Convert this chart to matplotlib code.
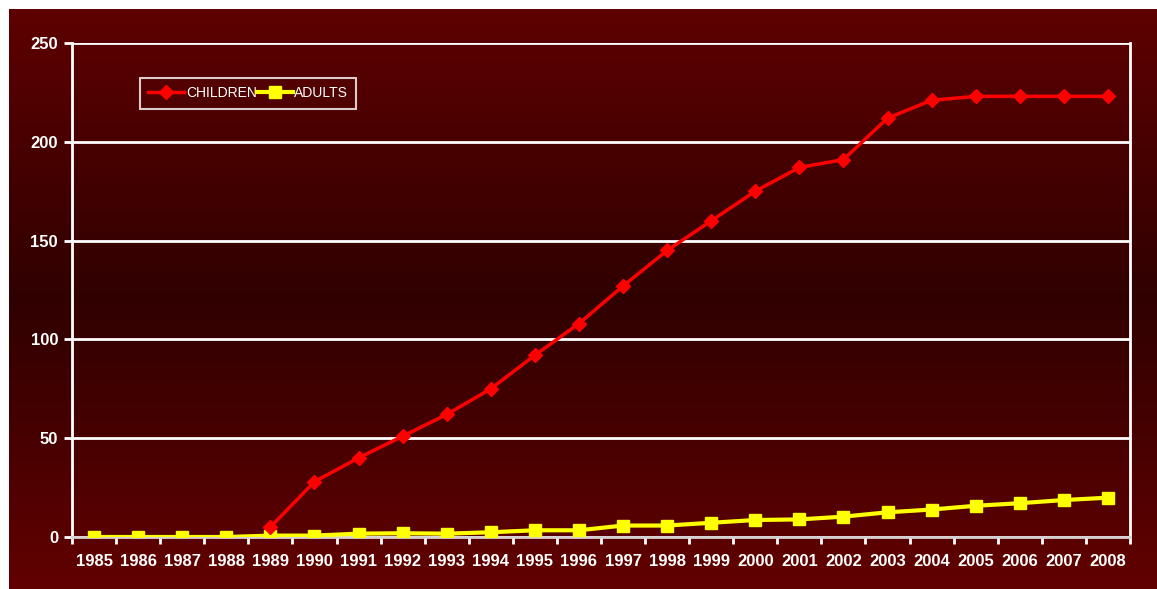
import numpy as np
import matplotlib.pyplot as plt
from matplotlib.colors import LinearSegmentedColormap

# data
years = list(range(1985, 2009))
children = [np.nan, np.nan, np.nan, np.nan, 5, 28, 40, 51, 62, 75, 92, 108,
            127, 145, 160, 175, 187, 191, 212, 221, 223, 223, 223, 223]
adults = [0, 0, 0, 0, 0.7, 0.7, 1.7, 1.9, 1.7, 2.4, 3.4, 3.4,
          5.8, 5.8, 7.2, 8.6, 8.9, 10.3, 12.5, 13.9, 15.8, 17.1, 18.7, 19.9]
yticks = [0, 50, 100, 150, 200, 250]

plt.rcParams['font.family'] = ['Liberation Sans', 'DejaVu Sans']

W, H = 1157, 589
fig = plt.figure(figsize=(W / 100, H / 100), dpi=100)
fig.patch.set_facecolor('white')

# gradient background panel
bg = fig.add_axes([9 / W, 0, 1 - 9 / W, 1 - 9 / H])
cmap = LinearSegmentedColormap.from_list('bg', ['#5e0000', '#300000', '#620000'])
grad = np.linspace(0, 1, 256).reshape(-1, 1)
bg.imshow(grad, aspect='auto', cmap=cmap, extent=[0, 1, 0, 1], origin='upper')
bg.set_axis_off()

ax = fig.add_axes([72 / W, 1 - 537 / H, (1130 - 72) / W, (537 - 43) / H])
ax.set_facecolor('none')

x = np.arange(len(years))
ax.plot(x, children, color='#ff0000', lw=2.5, marker='D', ms=7,
        label='CHILDREN', zorder=4)
ax.plot(x, adults, color='#ffff00', lw=3, marker='s', ms=8,
        label='ADULTS', zorder=3)

ax.set_xlim(-0.5, len(years) - 0.5)
ax.set_ylim(0, 250)
ax.set_yticks(yticks)
ax.set_yticklabels([str(v) for v in yticks])
ax.set_xticks(x)
ax.set_xticklabels([str(y) for y in years])
ax.set_xticks(np.arange(-0.5, len(years)), minor=True)

ax.grid(axis='y', color='white', lw=2)
ax.set_axisbelow(True)
ax.tick_params(axis='x', which='major', length=0, pad=12, colors='white',
               labelsize=12)
ax.tick_params(axis='x', which='minor', length=5, width=2, color='white')
ax.tick_params(axis='y', length=6, width=2, color='white', colors='white',
               labelsize=12, pad=4)
for lab in ax.get_xticklabels() + ax.get_yticklabels():
    lab.set_fontweight('bold')

ax.spines['top'].set_visible(False)
for s in ['left', 'right']:
    ax.spines[s].set_color('white')
    ax.spines[s].set_linewidth(2)
ax.spines['bottom'].set_color('#d8d0d0')
ax.spines['bottom'].set_linewidth(2)

leg = ax.legend(loc='upper left', bbox_to_anchor=(140 / W, 1 - 78 / H),
                bbox_transform=fig.transFigure, ncol=2, frameon=True,
                fancybox=False, handlelength=2.6, handletextpad=0.1,
                columnspacing=0.0, borderpad=0.6, borderaxespad=0,
                prop={'size': 10})
leg.get_frame().set_facecolor('none')
leg.get_frame().set_edgecolor('white')
leg.get_frame().set_linewidth(1.5)
for t in leg.get_texts():
    t.set_color('white')

fig.savefig('out.png', dpi=100, facecolor=fig.get_facecolor())
